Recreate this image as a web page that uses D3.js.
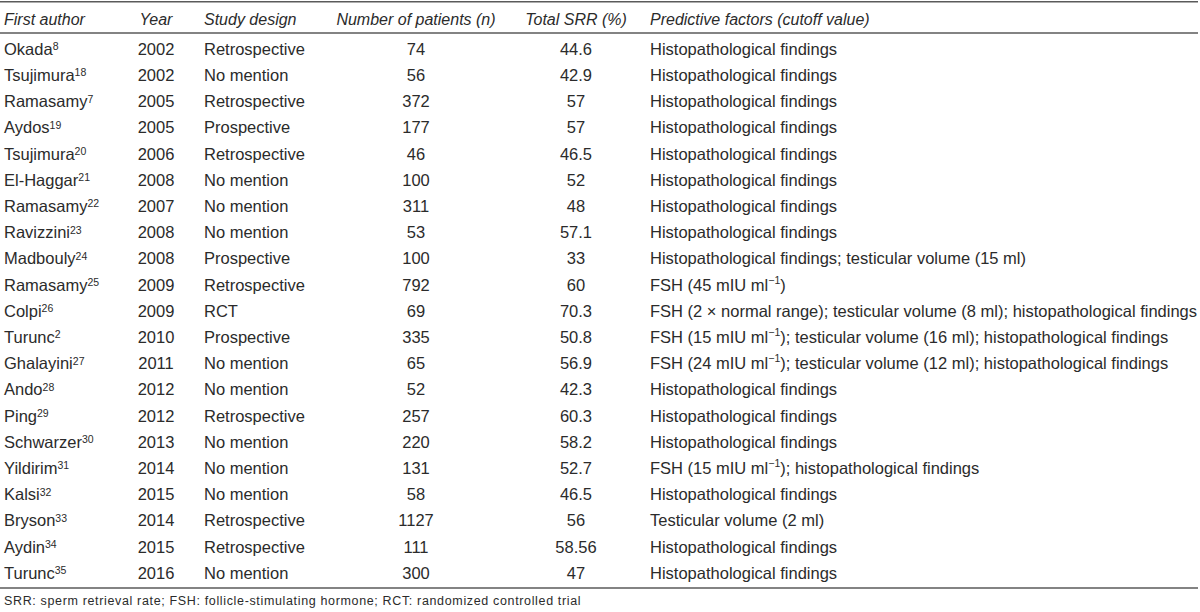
<!DOCTYPE html>
<html>
<head>
<meta charset="utf-8">
<script src="https://cdn.jsdelivr.net/npm/d3@7"></script>
<style>
  body { margin: 0; background: #fff; }
  text { font-family: "Liberation Sans", Arial, sans-serif; fill: #2b2b2b; }
</style>
</head>
<body>
<div id="chart"></div>
<script>
var headers = ["First author", "Year", "Study design", "Number of patients (n)", "Total SRR (%)", "Predictive factors (cutoff value)"];

var authors = ["Okada", "Tsujimura", "Ramasamy", "Aydos", "Tsujimura", "El-Haggar", "Ramasamy", "Ravizzini", "Madbouly", "Ramasamy",
    "Colpi", "Turunc", "Ghalayini", "Ando", "Ping", "Schwarzer", "Yildirim", "Kalsi", "Bryson", "Aydin", "Turunc"];
var refs = ["8", "18", "7", "19", "20", "21", "22", "23", "24", "25", "26", "2", "27", "28", "29", "30", "31", "32", "33", "34", "35"];
var years = ["2002", "2002", "2005", "2005", "2006", "2008", "2007", "2008", "2008", "2009",
    "2009", "2010", "2011", "2012", "2012", "2013", "2014", "2015", "2014", "2015", "2016"];
var designs = ["Retrospective", "No mention", "Retrospective", "Prospective", "Retrospective", "No mention", "No mention", "No mention", "Prospective", "Retrospective",
    "RCT", "Prospective", "No mention", "No mention", "Retrospective", "No mention", "No mention", "No mention", "Retrospective", "Retrospective", "No mention"];
var patients = ["74", "56", "372", "177", "46", "100", "311", "53", "100", "792",
    "69", "335", "65", "52", "257", "220", "131", "58", "1127", "111", "300"];
var srr = ["44.6", "42.9", "57", "57", "46.5", "52", "48", "57.1", "33", "60",
    "70.3", "50.8", "56.9", "42.3", "60.3", "58.2", "52.7", "46.5", "56", "58.56", "47"];
// {..} marks a superscript
var factors = [
    "Histopathological findings",
    "Histopathological findings",
    "Histopathological findings",
    "Histopathological findings",
    "Histopathological findings",
    "Histopathological findings",
    "Histopathological findings",
    "Histopathological findings",
    "Histopathological findings; testicular volume (15 ml)",
    "FSH (45 mIU ml{\u22121})",
    "FSH (2 \u00d7 normal range); testicular volume (8 ml); histopathological findings",
    "FSH (15 mIU ml{\u22121}); testicular volume (16 ml); histopathological findings",
    "FSH (24 mIU ml{\u22121}); testicular volume (12 ml); histopathological findings",
    "Histopathological findings",
    "Histopathological findings",
    "Histopathological findings",
    "FSH (15 mIU ml{\u22121}); histopathological findings",
    "Histopathological findings",
    "Testicular volume (2 ml)",
    "Histopathological findings",
    "Histopathological findings"
];
var footnote = "SRR: sperm retrieval rate; FSH: follicle-stimulating hormone; RCT: randomized controlled trial";

const width = 1200, height = 612;

const svg = d3.select("#chart")
    .append("svg")
    .attr("width", width)
    .attr("height", height);

// column positions and alignment
const cols = [
    {x: 4, anchor: "start"},
    {x: 156, anchor: "middle"},
    {x: 204, anchor: "start"},
    {x: 416, anchor: "middle"},
    {x: 576, anchor: "middle"},
    {x: 650, anchor: "start"}
];

const rows = d3.range(authors.length);
const yScale = d3.scaleBand()
    .domain(rows)
    .range([36, 586.2]);

// rules
const lineY = [1.8, 33, 588];
svg.selectAll(".rule")
    .data(lineY)
    .join("line")
    .attr("class", "rule")
    .attr("x1", 0)
    .attr("x2", 1198)
    .attr("y1", d => d)
    .attr("y2", d => d)
    .attr("stroke", "#5a5a5a")
    .attr("stroke-width", 1.6);

// header
svg.selectAll(".head")
    .data(headers)
    .join("text")
    .attr("class", "head")
    .attr("x", (d, i) => cols[i].x)
    .attr("y", 19)
    .attr("dy", "0.35em")
    .attr("text-anchor", (d, i) => cols[i].anchor)
    .style("font-style", "italic")
    .style("font-size", "16px")
    .text(d => d);

const fs = "16.5px";
const supFs = "10.5px";

// author column with superscript refs
const authorText = svg.selectAll(".author")
    .data(rows)
    .join("text")
    .attr("class", "author")
    .attr("x", cols[0].x)
    .attr("y", i => yScale(i) + yScale.bandwidth() / 2)
    .attr("dy", "0.35em")
    .style("font-size", fs);
authorText.append("tspan").text(i => authors[i]);
authorText.append("tspan")
    .attr("dy", "-0.45em")
    .style("font-size", supFs)
    .text(i => refs[i]);

// simple columns
const simple = [[1, years], [2, designs], [3, patients], [4, srr]];
simple.forEach(function(c) {
    svg.selectAll(".c" + c[0])
        .data(rows)
        .join("text")
        .attr("class", "c" + c[0])
        .attr("x", cols[c[0]].x)
        .attr("y", i => yScale(i) + yScale.bandwidth() / 2)
        .attr("dy", "0.35em")
        .attr("text-anchor", cols[c[0]].anchor)
        .style("font-size", fs)
        .text(i => c[1][i]);
});

// predictive factors, with superscripts
svg.selectAll(".factor")
    .data(rows)
    .join("text")
    .attr("class", "factor")
    .attr("x", cols[5].x)
    .attr("y", i => yScale(i) + yScale.bandwidth() / 2)
    .attr("dy", "0.35em")
    .style("font-size", fs)
    .each(function(i) {
        const t = d3.select(this);
        const parts = factors[i].split(/(\{[^}]*\})/);
        let raised = false;
        parts.forEach(function(p) {
            if (!p) return;
            if (p[0] === "{") {
                t.append("tspan").attr("dy", "-0.65em").style("font-size", supFs).text(p.slice(1, -1));
                raised = true;
            } else {
                const s = t.append("tspan").text(p);
                if (raised) { s.attr("dy", "0.42em").style("font-size", fs); raised = false; }
            }
        });
    });

// footnote
svg.append("text")
    .attr("x", 4)
    .attr("y", 601)
    .attr("dy", "0.35em")
    .style("font-size", "12.5px")
    .style("letter-spacing", "0.65px")
    .text(footnote);
</script>
</body>
</html>
